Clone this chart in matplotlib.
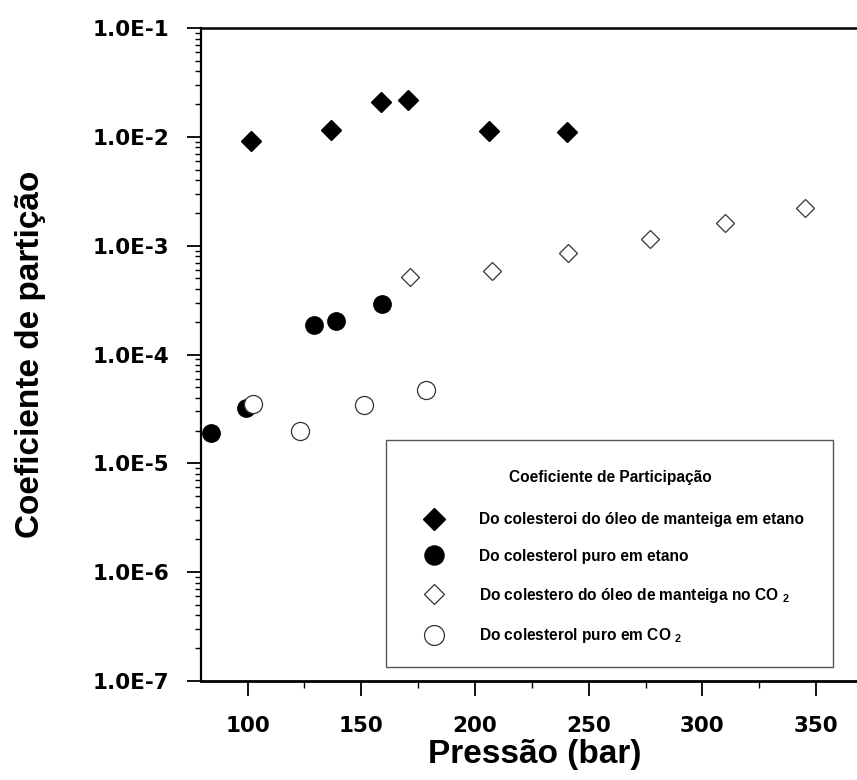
import matplotlib
matplotlib.use('Agg')
import matplotlib.pyplot as plt
from matplotlib.patches import Rectangle
from matplotlib.ticker import FixedLocator, FixedFormatter, LogLocator, NullFormatter

# dados
p_oleo_etano = [101.6, 136.7, 158.5, 170.6, 206.1, 240.5]
k_oleo_etano = [9.1e-3, 1.16e-2, 2.1e-2, 2.2e-2, 1.14e-2, 1.1e-2]

p_puro_etano = [84.0, 99.3, 129.2, 138.9, 159.0]
k_puro_etano = [1.9e-5, 3.2e-5, 1.85e-4, 2.05e-4, 2.9e-4]

p_oleo_co2 = [171.2, 207.5, 240.8, 276.8, 310.0, 345.0]
k_oleo_co2 = [5.1e-4, 5.9e-4, 8.5e-4, 1.15e-3, 1.6e-3, 2.2e-3]

p_puro_co2 = [102.2, 123.2, 151.3, 178.6]
k_puro_co2 = [3.5e-5, 2.0e-5, 3.4e-5, 4.7e-5]

xticks = [100, 150, 200, 250, 300, 350]
yticks = [1e-7, 1e-6, 1e-5, 1e-4, 1e-3, 1e-2, 1e-1]
ytick_labels = ['1.0E-7', '1.0E-6', '1.0E-5', '1.0E-4', '1.0E-3', '1.0E-2', '1.0E-1']

labels = ['Do colesteroi do óleo de manteiga em etano',
          'Do colesterol puro em etano',
          'Do colestero do óleo de manteiga no CO $_2$',
          'Do colesterol puro em CO $_2$']

plt.rcParams['mathtext.default'] = 'regular'

fig = plt.figure(figsize=(8.57, 7.8), dpi=100)
ax = fig.add_axes([201/857, 99/780, 656/857, 653/780])

ax.plot(p_oleo_etano, k_oleo_etano, 'D', ms=10, color='black', ls='none', label=labels[0])
ax.plot(p_puro_etano, k_puro_etano, 'o', ms=12.5, color='black', ls='none', label=labels[1])
ax.plot(p_oleo_co2, k_oleo_co2, 'D', ms=9.3, mfc='white', mec='#333333', mew=0.9, ls='none', label=labels[2])
ax.plot(p_puro_co2, k_puro_co2, 'o', ms=13, mfc='white', mec='#333333', mew=0.9, ls='none', label=labels[3])

ax.set_yscale('log')
ax.set_xlim(79.5, 368)
ax.set_ylim(1e-7, 1e-1)

ax.xaxis.set_major_locator(FixedLocator(xticks))
ax.xaxis.set_minor_locator(FixedLocator([125, 175, 225, 275, 325]))
ax.yaxis.set_major_locator(FixedLocator(yticks))
ax.yaxis.set_major_formatter(FixedFormatter(ytick_labels))
ax.yaxis.set_minor_locator(LogLocator(base=10, subs=range(2, 10)))
ax.yaxis.set_minor_formatter(NullFormatter())

for lab in ax.get_xticklabels() + ax.get_yticklabels():
    lab.set_fontfamily('DejaVu Sans')
    lab.set_fontweight('bold')
    lab.set_fontsize(15.5)

ax.tick_params(axis='x', which='major', direction='out', length=11, width=1.3, pad=14)
ax.tick_params(axis='x', which='minor', direction='out', length=5, width=1.0)
ax.tick_params(axis='y', which='major', direction='out', length=10, width=1.3, pad=13)
ax.tick_params(axis='y', which='minor', direction='out', length=4.5, width=1.0)

ax.spines['right'].set_visible(False)
ax.spines['left'].set_linewidth(1.6)
ax.spines['bottom'].set_linewidth(2.0)
ax.spines['top'].set_linewidth(1.8)

fig.text(535/857, 1 - 755/780, 'Pressão (bar)', family='Liberation Sans', weight='bold',
         fontsize=24, ha='center', va='center')
fig.text(31/857, 1 - 354/780, 'Coeficiente de partição', family='Liberation Sans', weight='bold',
         fontsize=24, ha='center', va='center', rotation=90)

# caixa da legenda
ax.add_patch(Rectangle((386/857, 1 - 667/780), 447/857, 227/780, transform=fig.transFigure,
                       facecolor='white', edgecolor='#555555', linewidth=1.0, zorder=3,
                       clip_on=False))
ax.text(610/857, 1 - 477/780, 'Coeficiente de Participação', transform=fig.transFigure,
        family='Liberation Sans', weight='bold', fontsize=11.2, ha='center', va='center',
        zorder=4)

leg = ax.legend(loc='upper left', bbox_to_anchor=(414/857, 1 - 512/780),
                bbox_transform=fig.transFigure, frameon=False, borderpad=0,
                labelspacing=1.4, handlelength=2.55, handletextpad=1.65, borderaxespad=0,
                markerscale=1.1,
                prop={'family': 'Liberation Sans', 'weight': 'bold', 'size': 11.2})
leg.set_zorder(5)

fig.savefig('out.png', dpi=100)
